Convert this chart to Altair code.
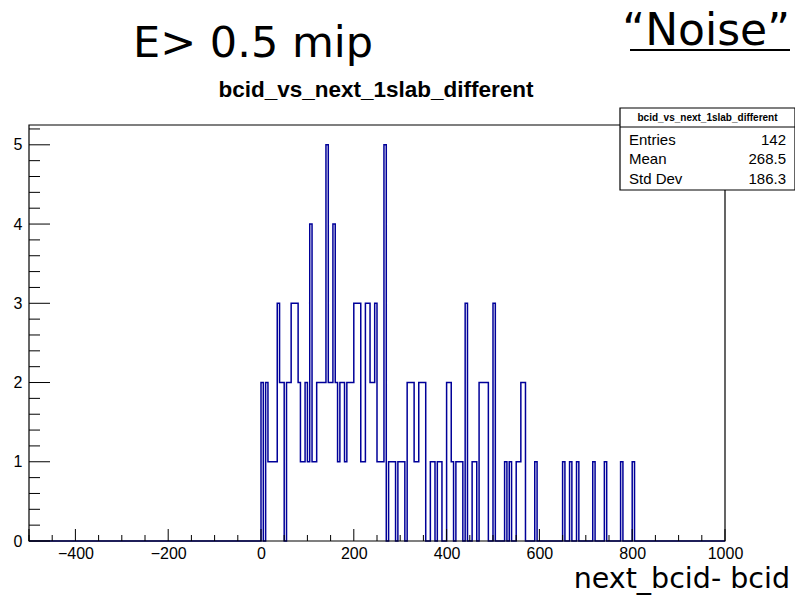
import altair as alt
import pandas as pd

# Histogram of next_bcid - bcid (5-unit bins from -500 to 1000)
BIN_WIDTH = 5
X_MIN, X_MAX = -500, 1000
Y_MAX = 5.25

bin_lo = [0, 10, 15, 20, 25, 30, 35, 40, 45, 55, 60, 65, 70, 75, 80, 85, 90, 95, 100,
          105, 110, 115, 120, 125, 130, 135, 140, 145, 150, 155, 160, 165, 170, 175,
          180, 185, 190, 195, 200, 205, 210, 215, 220, 225, 230, 235, 240, 245, 250,
          255, 260, 265, 275, 280, 285, 295, 300, 305, 315, 320, 325, 330, 335, 340,
          345, 350, 365, 370, 380, 385, 400, 405, 410, 420, 425, 430, 440, 455, 460,
          470, 475, 480, 485, 500, 525, 535, 550, 555, 560, 565, 590, 650, 665, 680,
          715, 740, 775, 800]
bin_count = [2, 2, 1, 1, 1, 1, 3, 2, 2, 2, 2, 3, 3, 3, 2, 1, 1, 2, 1,
             4, 1, 1, 2, 2, 2, 2, 5, 2, 2, 4, 2, 1, 2, 2,
             1, 2, 2, 2, 3, 3, 3, 1, 1, 3, 3, 2, 2, 3, 1,
             1, 1, 5, 1, 1, 1, 1, 1, 1, 2, 2, 2, 1, 1, 2,
             2, 2, 1, 1, 1, 1, 2, 2, 1, 1, 1, 1, 3, 1, 1,
             2, 2, 2, 2, 3, 1, 1, 1, 1, 2, 2, 1, 1, 1, 1,
             1, 1, 1, 1]

x_label_values = [-400, -200, 0, 200, 400, 600, 800, 1000]
x_minor_values = [v for v in range(-500, 1001, 50) if v % 200 != 0]
y_label_values = [0, 1, 2, 3, 4, 5]
y_minor_values = [round(i * 0.2, 1) for i in range(27) if i % 5 != 0]

stat_names = ["Entries", "Mean", "Std Dev"]
stat_values = ["142", "268.5", "186.3"]

W, H = 696, 416
LINE = "#000099"
FONT_AXIS = "Liberation Sans"
FONT_SLIDE = "DejaVu Sans"

# full step outline of the histogram
counts = {lo: c for lo, c in zip(bin_lo, bin_count)}
edges = list(range(X_MIN, X_MAX, BIN_WIDTH))
step_x, step_y = [], []
for lo in edges:
    step_x.append(lo)
    step_y.append(counts.get(lo, 0))
step_x.append(X_MAX)
step_y.append(0)
hist_df = pd.DataFrame({"x": step_x, "y": step_y, "order": range(len(step_x))})

x_scale = alt.Scale(domain=[X_MIN, X_MAX], nice=False, zero=False)
y_scale = alt.Scale(domain=[0, Y_MAX], nice=False, zero=False)
x_axis = alt.Axis(values=x_label_values, ticks=False, domain=False, grid=False,
                  labelFont=FONT_AXIS, labelFontSize=16, labelColor="black",
                  labelPadding=4, title=None, labelFlush=False, format="d")
y_axis = alt.Axis(values=y_label_values, ticks=False, domain=False, grid=False,
                  labelFont=FONT_AXIS, labelFontSize=16, labelColor="black",
                  labelPadding=7, title=None, format="d")


def X(field="x"):
    return alt.X(f"{field}:Q", scale=x_scale, axis=x_axis)


def Y(field="y"):
    return alt.Y(f"{field}:Q", scale=y_scale, axis=y_axis)


hist = alt.Chart(hist_df).mark_line(
    interpolate="step-after", color=LINE, strokeWidth=1.5
).encode(x=X(), y=Y(), order="order:Q")

one = pd.DataFrame({"k": [0]})

frame = alt.Chart(one).mark_rect(fillOpacity=0, stroke="black", strokeWidth=1.2).encode(
    x=alt.value(0), x2=alt.value(W), y=alt.value(0), y2=alt.value(H))

x_major = alt.Chart(pd.DataFrame({"x": x_label_values + [-500]})).mark_rule(
    color="black", strokeWidth=1).encode(x=X(), y=alt.value(H), y2=alt.value(H - 12))
x_minor = alt.Chart(pd.DataFrame({"x": x_minor_values})).mark_rule(
    color="black", strokeWidth=1).encode(x=X(), y=alt.value(H), y2=alt.value(H - 6))
y_major = alt.Chart(pd.DataFrame({"y": y_label_values})).mark_rule(
    color="black", strokeWidth=1).encode(y=Y(), x=alt.value(0), x2=alt.value(21))
y_minor = alt.Chart(pd.DataFrame({"y": y_minor_values})).mark_rule(
    color="black", strokeWidth=1).encode(y=Y(), x=alt.value(0), x2=alt.value(11))

# statistics box
BX0, BX1, BY0, BY1 = 591, 766, -17, 65
ROW_Y = [20, 39, 59]
stat_box = alt.Chart(one).mark_rect(fill="white", stroke="black", strokeWidth=1.2).encode(
    x=alt.value(BX0), x2=alt.value(BX1), y=alt.value(BY0), y2=alt.value(BY1))
stat_sep = alt.Chart(one).mark_rule(color="black", strokeWidth=1).encode(
    x=alt.value(BX0), x2=alt.value(BX1), y=alt.value(2))
stat_head = alt.Chart(pd.DataFrame({"t": ["bcid_vs_next_1slab_different"]})).mark_text(
    font=FONT_AXIS, fontSize=10, fontWeight="bold", align="center", baseline="alphabetic"
).encode(text="t:N", x=alt.value((BX0 + BX1) / 2), y=alt.value(-4))

stat_layers = []
for name, val, ry in zip(stat_names, stat_values, ROW_Y):
    row = pd.DataFrame({"name": [name], "val": [val]})
    stat_layers.append(alt.Chart(row).mark_text(
        font=FONT_AXIS, fontSize=15, align="left", baseline="alphabetic"
    ).encode(text="name:N", x=alt.value(BX0 + 9), y=alt.value(ry)))
    stat_layers.append(alt.Chart(row).mark_text(
        font=FONT_AXIS, fontSize=15, align="right", baseline="alphabetic"
    ).encode(text="val:N", x=alt.value(BX1 - 9), y=alt.value(ry)))

# titles and annotations
title = alt.Chart(pd.DataFrame({"t": ["bcid_vs_next_1slab_different"]})).mark_text(
    font=FONT_AXIS, fontSize=22.5, fontWeight="bold", align="center", baseline="alphabetic"
).encode(text="t:N", x=alt.value(376 - 29), y=alt.value(97 - 125))
cut = alt.Chart(pd.DataFrame({"t": ["E> 0.5 mip"]})).mark_text(
    font=FONT_SLIDE, fontSize=43, align="left", baseline="alphabetic", color="black"
).encode(text="t:N", x=alt.value(133 - 29), y=alt.value(57 - 125))
noise = alt.Chart(pd.DataFrame({"t": ["\u201cNoise\u201d"]})).mark_text(
    font=FONT_SLIDE, fontSize=44, align="right", baseline="alphabetic", color="black"
).encode(text="t:N", x=alt.value(790 - 29), y=alt.value(45 - 125))
noise_ul = alt.Chart(one).mark_rule(color="black", strokeWidth=2).encode(
    x=alt.value(630 - 29), x2=alt.value(790 - 29), y=alt.value(50 - 125))
xtitle = alt.Chart(pd.DataFrame({"t": ["next_bcid- bcid"]})).mark_text(
    font=FONT_SLIDE, fontSize=28.5, align="right", baseline="alphabetic", color="black"
).encode(text="t:N", x=alt.value(790 - 29), y=alt.value(588 - 125))

chart = alt.layer(
    hist, frame, x_major, x_minor, y_major, y_minor,
    stat_box, stat_sep, stat_head, *stat_layers,
    title, cut, noise, noise_ul, xtitle
).properties(
    width=W, height=H,
    padding={"left": 29, "top": 125, "right": 70, "bottom": 54},
    autosize=alt.AutoSizeParams(type="none"),
    background="white",
).configure_view(stroke=None)

chart.save("out.html", embed_options={"renderer": "svg", "actions": False})
